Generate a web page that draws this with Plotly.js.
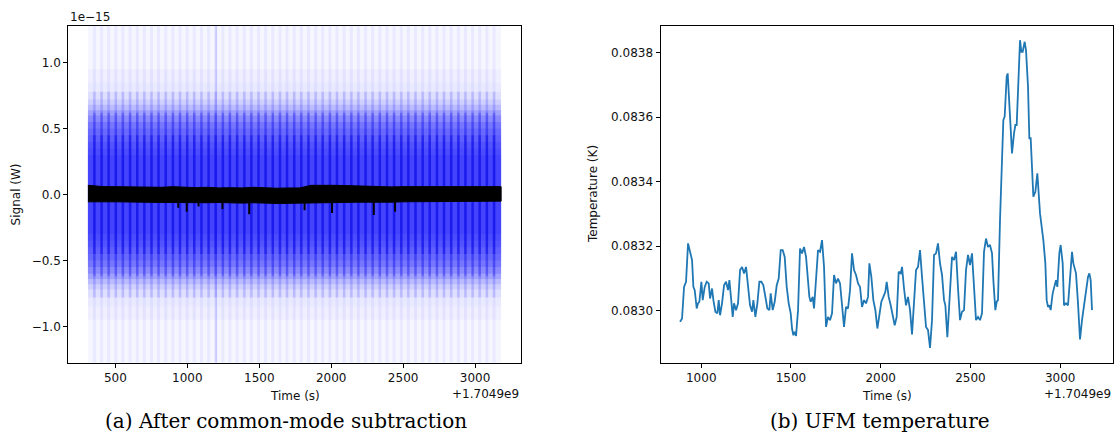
<!DOCTYPE html>
<html><head><meta charset="utf-8">
<script src="https://cdn.plot.ly/plotly-3.0.1.min.js"></script>
<style>html,body{margin:0;padding:0;background:#fff}#chart{width:1115px;height:434px}</style>
</head><body><div id="chart"></div>
<script>
// ===== Panel (a): signal after common-mode subtraction =====
// time in s after 1.7049e9, signal in units of 1e-15 W
const sigStart = 309;
const sigEnd = 3181;
// half-widths of the detector-signal density envelope (1e-15 W)
const bandHalfWidths = [1.4, 0.95, 0.85, 0.78, 0.72, 0.68, 0.64, 0.60, 0.55, 0.50, 0.45, 0.40, 0.35, 0.30];
// scan-synchronous vertical stripes (s)
const stripeTimes = [354, 404, 453, 503, 552, 602, 652, 701, 751, 800, 850, 900, 949, 999, 1048, 1098, 1148, 1197, 1247, 1296, 1346, 1396, 1445, 1495, 1544, 1594, 1644, 1693, 1743, 1792, 1842, 1892, 1941, 1991, 2040, 2090, 2140, 2189, 2239, 2288, 2338, 2388, 2437, 2487, 2536, 2586, 2636, 2685, 2735, 2784, 2834, 2884, 2933, 2983, 3032, 3082, 3132];
// half-heights of the dark stripe cores (1e-15 W)
const stripeCoreHalf = [0.78, 0.62, 0.45];
const brightLineTime = 1200;
// common-mode residual (black) envelope
const cmTimes = [309, 350, 420, 500, 580, 660, 740, 820, 900, 980, 1060, 1140, 1220, 1300, 1380, 1460, 1540, 1620, 1700, 1780, 1860, 1940, 2020, 2100, 2180, 2260, 2340, 2420, 2500, 2580, 2660, 2740, 2820, 2900, 2980, 3060, 3140, 3181];
const cmUpper = [0.07, 0.065, 0.06, 0.06, 0.058, 0.055, 0.058, 0.055, 0.06, 0.055, 0.052, 0.055, 0.05, 0.052, 0.05, 0.055, 0.05, 0.048, 0.05, 0.05, 0.07, 0.072, 0.07, 0.068, 0.065, 0.062, 0.06, 0.058, 0.06, 0.06, 0.058, 0.06, 0.055, 0.055, 0.058, 0.06, 0.06, 0.06];
const cmLower = [-0.055, -0.055, -0.055, -0.055, -0.058, -0.055, -0.058, -0.06, -0.06, -0.06, -0.06, -0.062, -0.06, -0.062, -0.065, -0.062, -0.065, -0.068, -0.07, -0.068, -0.065, -0.062, -0.06, -0.06, -0.058, -0.058, -0.06, -0.058, -0.055, -0.055, -0.055, -0.055, -0.052, -0.052, -0.05, -0.05, -0.05, -0.05];
const glitchTimes = [937, 996, 1078, 1244, 1430, 1815, 2006, 2296, 2444];
const glitchDepths = [-0.10, -0.13, -0.09, -0.11, -0.15, -0.12, -0.14, -0.155, -0.13];

// ===== Panel (b): UFM temperature =====
const tempTimes = [881.9, 893.1, 904.2, 915.3, 926.5, 933.9, 941.3, 948.8, 956.2, 963.6, 974.8, 982.2, 989.6, 1000.8, 1008.2, 1019.3, 1030.5, 1041.6, 1049.1, 1060.2, 1067.6, 1078.8, 1089.9, 1097.3, 1104.8, 1115.9, 1127.0, 1138.2, 1149.3, 1156.8, 1167.9, 1175.3, 1182.8, 1193.9, 1205.0, 1216.2, 1227.3, 1238.5, 1249.6, 1260.7, 1271.9, 1283.0, 1290.5, 1301.6, 1312.7, 1323.9, 1335.0, 1346.2, 1357.3, 1368.5, 1379.6, 1387.0, 1398.2, 1409.3, 1420.5, 1431.6, 1442.7, 1453.9, 1465.0, 1476.2, 1487.3, 1498.4, 1505.9, 1513.3, 1520.7, 1528.2, 1539.3, 1550.4, 1561.6, 1572.7, 1583.9, 1591.3, 1602.4, 1609.9, 1621.0, 1628.4, 1639.6, 1650.7, 1661.9, 1673.0, 1684.1, 1695.3, 1706.4, 1717.6, 1728.7, 1739.9, 1751.0, 1762.1, 1773.3, 1784.4, 1795.6, 1806.7, 1817.8, 1829.0, 1840.1, 1851.3, 1862.4, 1873.6, 1884.7, 1895.8, 1907.0, 1918.1, 1929.3, 1936.7, 1947.8, 1959.0, 1970.1, 1981.3, 1992.4, 2003.5, 2014.7, 2025.8, 2033.3, 2044.4, 2055.5, 2066.7, 2077.8, 2089.0, 2100.1, 2111.3, 2118.7, 2129.8, 2141.0, 2152.1, 2163.3, 2174.4, 2185.5, 2196.7, 2207.8, 2219.0, 2230.1, 2241.2, 2252.4, 2263.5, 2274.7, 2285.8, 2297.0, 2308.1, 2319.2, 2330.4, 2341.5, 2352.7, 2360.1, 2371.2, 2386.1, 2397.2, 2408.4, 2419.5, 2430.7, 2441.8, 2452.9, 2464.1, 2475.2, 2486.4, 2497.5, 2508.6, 2519.8, 2530.9, 2542.1, 2553.2, 2564.3, 2575.5, 2586.6, 2597.8, 2608.9, 2620.1, 2627.5, 2638.6, 2646.1, 2653.5, 2664.6, 2683.2, 2690.6, 2701.8, 2707.4, 2716.6, 2731.5, 2742.6, 2750.1, 2757.5, 2768.6, 2776.1, 2783.5, 2790.9, 2802.1, 2809.5, 2820.6, 2828.1, 2835.5, 2850.3, 2861.5, 2872.6, 2880.1, 2887.5, 2906.1, 2917.2, 2924.6, 2932.0, 2939.5, 2946.9, 2958.0, 2969.2, 2976.6, 2984.0, 2995.2, 3002.6, 3013.8, 3021.2, 3032.3, 3043.5, 3054.6, 3065.8, 3073.2, 3080.6, 3088.0, 3099.2, 3110.3, 3121.5, 3132.6, 3143.8, 3154.9, 3162.3, 3169.8, 3177.2];
const tempValues = [0.082966, 0.082976, 0.083074, 0.083090, 0.083209, 0.083193, 0.083178, 0.083157, 0.083074, 0.083064, 0.083007, 0.083023, 0.083028, 0.083090, 0.083033, 0.083074, 0.083090, 0.083085, 0.083038, 0.083069, 0.083033, 0.082997, 0.082992, 0.083033, 0.082986, 0.083023, 0.083079, 0.083090, 0.083064, 0.083095, 0.083028, 0.082981, 0.083023, 0.083002, 0.083023, 0.083126, 0.083136, 0.083116, 0.083136, 0.083085, 0.083017, 0.082997, 0.083033, 0.082981, 0.083023, 0.083090, 0.083090, 0.083079, 0.083043, 0.083007, 0.083002, 0.083054, 0.083002, 0.083028, 0.083079, 0.083100, 0.083188, 0.083188, 0.083167, 0.083074, 0.083023, 0.082992, 0.082945, 0.082924, 0.082935, 0.082922, 0.083002, 0.083193, 0.083178, 0.083198, 0.083167, 0.083126, 0.083043, 0.083028, 0.083043, 0.083007, 0.083111, 0.083188, 0.083183, 0.083219, 0.083136, 0.082950, 0.082981, 0.082971, 0.082992, 0.083111, 0.083085, 0.083100, 0.083085, 0.083012, 0.082950, 0.083012, 0.083007, 0.083064, 0.083178, 0.083126, 0.083111, 0.083085, 0.083074, 0.083012, 0.083033, 0.083023, 0.083043, 0.083147, 0.083105, 0.083033, 0.083002, 0.082945, 0.082992, 0.083028, 0.083043, 0.083059, 0.083090, 0.083043, 0.083017, 0.082981, 0.082955, 0.082981, 0.083121, 0.083116, 0.083136, 0.083069, 0.083017, 0.083043, 0.083002, 0.082927, 0.083038, 0.083126, 0.083136, 0.083188, 0.083105, 0.083028, 0.082950, 0.082940, 0.082885, 0.082971, 0.083173, 0.083178, 0.083209, 0.083147, 0.083111, 0.083033, 0.083017, 0.082918, 0.083054, 0.083167, 0.083157, 0.083183, 0.083069, 0.082971, 0.082997, 0.083002, 0.083126, 0.083173, 0.083142, 0.083178, 0.083074, 0.082971, 0.082981, 0.082971, 0.082992, 0.083183, 0.083224, 0.083198, 0.083204, 0.083178, 0.083095, 0.083002, 0.083028, 0.083033, 0.083281, 0.083591, 0.083602, 0.083726, 0.083736, 0.083653, 0.083488, 0.083550, 0.083576, 0.083576, 0.083746, 0.083839, 0.083803, 0.083803, 0.083834, 0.083808, 0.083695, 0.083535, 0.083535, 0.083354, 0.083369, 0.083426, 0.083364, 0.083302, 0.083219, 0.083147, 0.083033, 0.083012, 0.083017, 0.083002, 0.083054, 0.083079, 0.083095, 0.083074, 0.083178, 0.083204, 0.083147, 0.083017, 0.083023, 0.083017, 0.083090, 0.083183, 0.083147, 0.083126, 0.083116, 0.083023, 0.082911, 0.082971, 0.083012, 0.083064, 0.083105, 0.083116, 0.083095, 0.083002];

// ===== Tick labels =====
const xTicksA = [500, 1000, 1500, 2000, 2500, 3000];
const yTicksA = [-1, -0.5, 0, 0.5, 1];
const yTickLabelsA = ["\u22121.0", "\u22120.5", "0.0", "0.5", "1.0"];
const xTicksB = [1000, 1500, 2000, 2500, 3000];
const yTicksB = [0.0830, 0.0832, 0.0834, 0.0836, 0.0838];
const yTickLabelsB = ["0.0830", "0.0832", "0.0834", "0.0836", "0.0838"];

// ===== Styles =====
const bandAlphas = [0.035, 0.026, 0.021, 0.043, 0.068, 0.098, 0.135, 0.141, 0.145, 0.106, 0.095, 0.105, 0.088, 0.097];
const stripeCoreAlphas = [0.12, 0.25, 0.35];
const tickFont = {family: "DejaVu Sans", size: 12, color: "#111"};
const captionFont = {family: "DejaVu Serif", size: 20, color: "#000"};

const traces = [];
bandHalfWidths.forEach((h, i) => {
  traces.push({
    type: "scatter", mode: "lines", xaxis: "x", yaxis: "y",
    x: [sigStart, sigEnd, sigEnd, sigStart, sigStart],
    y: [h, h, -h, -h, h],
    fill: "toself", fillcolor: `rgba(0,0,255,${bandAlphas[i]})`,
    line: {width: 0}, hoverinfo: "skip", showlegend: false
  });
});
function segs(times, y0, y1) {
  const xs = [], ys = [];
  times.forEach(t => { xs.push(t, t, null); ys.push(y0, y1, null); });
  return {xs, ys};
}
let s = segs(stripeTimes, -1.4, 1.4);
traces.push({type: "scatter", mode: "lines", xaxis: "x", yaxis: "y", x: s.xs, y: s.ys,
  line: {color: "rgba(0,0,255,0.05)", width: 3}, hoverinfo: "skip", showlegend: false});
stripeCoreHalf.forEach((h, i) => {
  const c = segs(stripeTimes, -h, h);
  traces.push({type: "scatter", mode: "lines", xaxis: "x", yaxis: "y", x: c.xs, y: c.ys,
    line: {color: `rgba(0,0,225,${stripeCoreAlphas[i]})`, width: 2.4}, hoverinfo: "skip", showlegend: false});
});
s = segs([brightLineTime], -1.4, 1.4);
traces.push({type: "scatter", mode: "lines", xaxis: "x", yaxis: "y", x: s.xs, y: s.ys,
  line: {color: "rgba(0,0,255,0.16)", width: 1.5}, hoverinfo: "skip", showlegend: false});
traces.push({type: "scatter", mode: "lines", xaxis: "x", yaxis: "y",
  x: cmTimes.concat(cmTimes.slice().reverse()),
  y: cmUpper.concat(cmLower.slice().reverse()),
  fill: "toself", fillcolor: "#000", line: {color: "#000", width: 1},
  hoverinfo: "skip", showlegend: false});
const g = {xs: [], ys: []};
glitchTimes.forEach((t, i) => { g.xs.push(t, t, null); g.ys.push(-0.04, glitchDepths[i], null); });
traces.push({type: "scatter", mode: "lines", xaxis: "x", yaxis: "y", x: g.xs, y: g.ys,
  line: {color: "#000", width: 2}, hoverinfo: "skip", showlegend: false});

traces.push({type: "scatter", mode: "lines", xaxis: "x2", yaxis: "y2",
  x: tempTimes, y: tempValues, line: {color: "#1f77b4", width: 1.8},
  showlegend: false});

const axBase = {
  showline: true, mirror: true, linecolor: "#000", linewidth: 1,
  ticks: "outside", ticklen: 4, tickwidth: 1, tickcolor: "#000",
  showgrid: false, zeroline: false, tickfont: tickFont, fixedrange: true
};
const yDom = [1 - 362.7 / 434, 1 - 26 / 434];
const layout = {
  width: 1115, height: 434,
  margin: {l: 0, r: 0, t: 0, b: 0},
  paper_bgcolor: "#fff", plot_bgcolor: "#fff",
  showlegend: false,
  xaxis: Object.assign({}, axBase, {domain: [68.2 / 1115, 521.4 / 1115], range: [172, 3322],
    tickmode: "array", tickvals: xTicksA, ticktext: xTicksA.map(String), anchor: "y"}),
  yaxis: Object.assign({}, axBase, {domain: yDom, range: [-1.275, 1.278],
    tickmode: "array", tickvals: yTicksA, ticktext: yTickLabelsA, anchor: "x"}),
  xaxis2: Object.assign({}, axBase, {domain: [660.5 / 1115, 1112.9 / 1115], range: [773, 3293.6],
    tickmode: "array", tickvals: xTicksB, ticktext: xTicksB.map(String), anchor: "y2"}),
  yaxis2: Object.assign({}, axBase, {domain: yDom, range: [0.082839, 0.083883],
    tickmode: "array", tickvals: yTicksB, ticktext: yTickLabelsB, anchor: "x2"}),
  annotations: [
    {text: "1e\u221215", x: 68.2 / 1115, y: 1 - 16.7 / 434, xanchor: "left", yanchor: "middle"},
    {text: "+1.7049e9", x: 521.4 / 1115, y: 1 - 394 / 434, xanchor: "right", yanchor: "middle"},
    {text: "+1.7049e9", x: 1112.9 / 1115, y: 1 - 394 / 434, xanchor: "right", yanchor: "middle"},
    {text: "Time (s)", x: 294.8 / 1115, y: 1 - 395.7 / 434, xanchor: "center", yanchor: "middle"},
    {text: "Time (s)", x: 886.7 / 1115, y: 1 - 395.7 / 434, xanchor: "center", yanchor: "middle"},
    {text: "Signal (W)", x: 16 / 1115, y: 1 - 194.4 / 434, xanchor: "center", yanchor: "middle", textangle: -90},
    {text: "Temperature (K)", x: 593.6 / 1115, y: 1 - 194.4 / 434, xanchor: "center", yanchor: "middle", textangle: -90},
    {text: "(a) After common-mode subtraction", x: 286 / 1115, y: 1 - 420.5 / 434, xanchor: "center", yanchor: "middle", font: captionFont, borderpad: 0},
    {text: "(b) UFM temperature", x: 879.5 / 1115, y: 1 - 420.5 / 434, xanchor: "center", yanchor: "middle", font: captionFont, borderpad: 0}
  ].map(a => Object.assign({xref: "paper", yref: "paper", showarrow: false, font: tickFont}, a))
};
Plotly.newPlot("chart", traces, layout, {staticPlot: true, displayModeBar: false});
</script></body></html>
